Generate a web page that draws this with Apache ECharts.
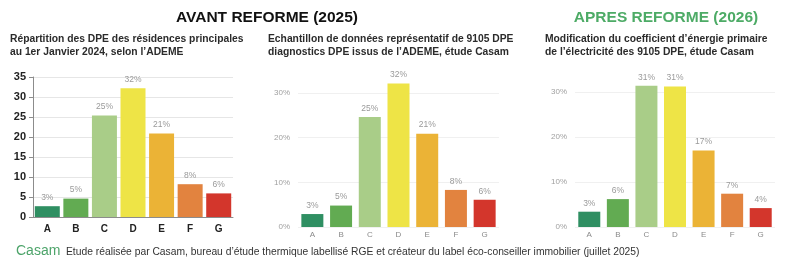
<!DOCTYPE html>
<html lang="fr">
<head>
<meta charset="UTF-8">
<title>DPE avant / après réforme</title>
<style>
  html, body { margin: 0; padding: 0; background: #fff; }
  #chart { width: 800px; height: 268px; }
</style>
<script src="https://cdn.jsdelivr.net/npm/echarts@6/dist/echarts.min.js"></script>
</head>
<body>
<div id="chart"></div>
<script>
// classes DPE
const classes = ['A', 'B', 'C', 'D', 'E', 'F', 'G'];

// part des logements par classe (%)
const ademe2024 = [2.7, 4.6, 25.4, 32.2, 20.9, 8.2, 5.9];
const casam2025 = [2.9, 4.8, 24.6, 32.1, 20.9, 8.3, 6.1];
const casam2026 = [3.4, 6.2, 31.4, 31.2, 17.0, 7.4, 4.2];

const ticks1 = [0, 5, 10, 15, 20, 25, 30, 35];
const ticks2 = [0, 10, 20, 30];

const colors = ['#2f8f62', '#62ab52', '#a9cd88', '#eee446', '#ebb336', '#e2833f', '#d3362c'];

const FONT = '"Liberation Sans", Arial, sans-serif';

const chart = echarts.init(document.getElementById('chart'));

function barSeries(data, idx, width) {
    return {
        type: 'bar',
        xAxisIndex: idx,
        yAxisIndex: idx,
        data: data,
        barWidth: width,
        clip: false,
        itemStyle: { color: p => colors[p.dataIndex] },
        label: {
            show: true,
            position: 'top',
            distance: 4,
            fontFamily: FONT,
            fontSize: 8.5,
            color: '#9a9a9a',
            formatter: p => Math.round(p.value) + '%'
        }
    };
}

function softY(idx, max) {
    return {
        type: 'value', gridIndex: idx, min: 0, max: max, interval: 10,
        axisLine: { show: false }, axisTick: { show: false },
        splitLine: { lineStyle: { color: '#f0f0f0' } },
        axisLabel: { fontFamily: FONT, fontSize: 8, color: '#a0a0a0', margin: 8, formatter: '{value}%' }
    };
}

function softX(idx) {
    return {
        type: 'category', gridIndex: idx, data: classes,
        axisLine: { show: false }, axisTick: { show: false },
        axisLabel: { fontFamily: FONT, fontSize: 8, color: '#8a8a8a', margin: 4 }
    };
}

const subStyle = { fontFamily: FONT, fontSize: 10.3, fontWeight: 'bold', color: '#2b2b2b', lineHeight: 13 };

const option = {
    animation: false,
    title: [
        { text: 'AVANT REFORME (2025)', left: 262, top: 5, textAlign: 'center',
          textStyle: { fontFamily: FONT, fontSize: 15.5, fontWeight: 'bold', color: '#111' } },
        { text: 'APRES REFORME (2026)', left: 661, top: 5, textAlign: 'center',
          textStyle: { fontFamily: FONT, fontSize: 15.5, fontWeight: 'bold', color: '#4dab66' } },
        { text: 'Répartition des DPE des résidences principales\nau 1er Janvier 2024, selon l\u2019ADEME',
          left: 10, top: 33, padding: 0, textStyle: subStyle },
        { text: 'Echantillon de données représentatif de 9105 DPE\ndiagnostics DPE issus de l\u2019ADEME, étude Casam',
          left: 268, top: 33, padding: 0, textStyle: subStyle },
        { text: 'Modification du coefficient d\u2019énergie primaire\nde l\u2019électricité des 9105 DPE, étude Casam',
          left: 545, top: 33, padding: 0, textStyle: subStyle },
        { text: 'Casam', left: 16, top: 244, padding: 0,
          textStyle: { fontFamily: FONT, fontSize: 14, fontWeight: 'normal', color: '#4da46a' } },
        { text: 'Etude réalisée par Casam, bureau d\u2019étude thermique labellisé RGE et créateur du label éco-conseiller immobilier (juillet 2025)',
          left: 66, top: 247, padding: 0,
          textStyle: { fontFamily: FONT, fontSize: 10.3, fontWeight: 'normal', color: '#333' } }
    ],
    grid: [
        { left: 33, top: 77, width: 200, height: 140 },
        { left: 298, top: 93, width: 201, height: 134 },
        { left: 575, top: 92, width: 200, height: 135 }
    ],
    xAxis: [
        {
            type: 'category', gridIndex: 0, data: classes,
            axisLine: { lineStyle: { color: '#8c8c8c', width: 1 } },
            axisTick: { show: false },
            axisLabel: { fontFamily: FONT, fontSize: 10, fontWeight: 'bold', color: '#222', margin: 7 }
        },
        softX(1),
        softX(2)
    ],
    yAxis: [
        {
            type: 'value', gridIndex: 0, min: ticks1[0], max: ticks1[ticks1.length - 1], interval: 5,
            axisLine: { show: true, lineStyle: { color: '#8c8c8c' } },
            axisTick: { show: true, length: 4, lineStyle: { color: '#8c8c8c' } },
            splitLine: { lineStyle: { color: '#e6e6e6' } },
            axisLabel: { fontFamily: FONT, fontSize: 11, fontWeight: 'bold', color: '#222', margin: 7 }
        },
        softY(1, ticks2[ticks2.length - 1]),
        softY(2, ticks2[ticks2.length - 1])
    ],
    series: [
        barSeries(ademe2024, 0, 25),
        barSeries(casam2025, 1, 22),
        barSeries(casam2026, 2, 22)
    ]
};

chart.setOption(option);
</script>
</body>
</html>
